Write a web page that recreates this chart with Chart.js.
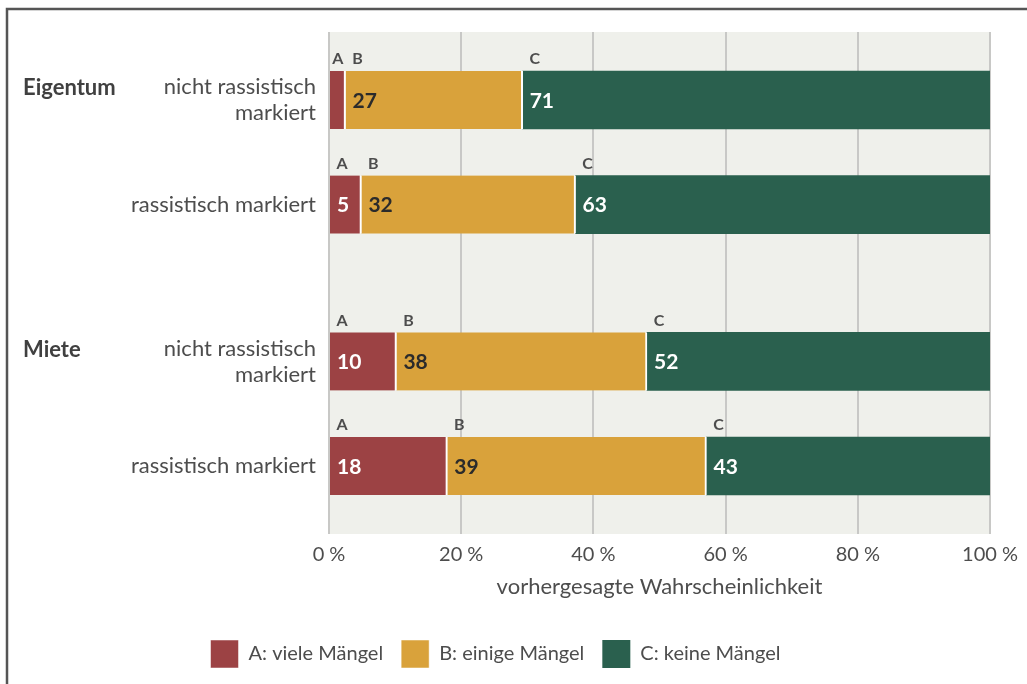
<!DOCTYPE html>
<html lang="de">
<head>
<meta charset="utf-8">
<title>Vorhergesagte Wahrscheinlichkeit</title>
<script src="https://cdn.jsdelivr.net/npm/chart.js@4.4.1/dist/chart.umd.min.js"></script>
<style>
  html, body { margin: 0; padding: 0; background: #fff; }
  #wrap { position: relative; width: 1027px; height: 684px; }
</style>
</head>
<body>
<div id="wrap"><canvas id="chart"></canvas></div>
<script>
// Daten
const rowLabels = [
  ["nicht rassistisch", "markiert"],
  "rassistisch markiert",
  ["nicht rassistisch", "markiert"],
  "rassistisch markiert",
];
const rowPos = [0, 2, 5, 7];          // Lage der Balken auf der y-Achse (Lücke zwischen Gruppen)
const groupLabels = ["Eigentum", "Miete"];
const groupRows = [0, 2];             // erste Zeile je Gruppe
const vieleMaengel = [2.5, 4.9, 10.2, 17.9];
const einigeMaengel = [26.8, 32.4, 37.9, 39.2];
const keineMaengel = [70.7, 62.7, 51.9, 42.9];
const seriesNames = ["A: viele Mängel", "B: einige Mängel", "C: keine Mängel"];
const seriesKeys = ["A", "B", "C"];
const xTicks = [0, 20, 40, 60, 80, 100];

const FONT = "Lato, 'Open Sans', sans-serif";
const GREY = "#4d4d4d";
const colors = ["#9c4244", "#d9a23b", "#2a604e"];
const labelColors = ["#ffffff", "#2b2b2b", "#ffffff"];

const toPoints = (arr) => arr.map((v, i) => ({ x: v, y: rowPos[i] }));

// Hintergrund und Rahmen
const backdrop = {
  id: "backdrop",
  beforeDraw(chart) {
    const { ctx, chartArea: a, width, height } = chart;
    ctx.save();
    ctx.fillStyle = "#eff0eb";
    ctx.fillRect(a.left, a.top, a.right - a.left, a.bottom - a.top);
    ctx.strokeStyle = "#555";
    ctx.lineWidth = 2.5;
    ctx.beginPath();
    ctx.moveTo(7, height);
    ctx.lineTo(7, 9);
    ctx.lineTo(width, 9);
    ctx.stroke();
    ctx.restore();
  },
};

// Buchstaben A/B/C und Werte in den Balken, Gruppentitel links
const barText = {
  id: "barText",
  afterDatasetsDraw(chart) {
    const { ctx } = chart;
    ctx.save();
    ctx.textBaseline = "middle";
    chart.data.datasets.forEach((ds, di) => {
      const meta = chart.getDatasetMeta(di);
      meta.data.forEach((el, i) => {
        const p = el.getProps(["x", "y", "base", "height"], true);
        const start = Math.min(p.x, p.base);
        const w = Math.abs(p.x - p.base);
        const top = p.y - p.height / 2;
        ctx.textAlign = "center";
        ctx.fillStyle = GREY;
        ctx.font = "bold 16px " + FONT;
        ctx.fillText(seriesKeys[di], start + Math.min(12, w / 2), top - 12);
        const v = ds.data[i].x;
        if (v >= 4) {
          ctx.textAlign = "left";
          ctx.fillStyle = labelColors[di];
          ctx.font = "bold 21px " + FONT;
          ctx.fillText(String(Math.round(v)), start + 7, p.y + 1);
        }
      });
    });
    const yScale = chart.scales.y;
    ctx.textAlign = "left";
    ctx.fillStyle = "#404040";
    ctx.font = "bold 22px " + FONT;
    groupLabels.forEach((g, gi) => {
      const y = yScale.getPixelForValue(rowPos[groupRows[gi]]) - 12;
      ctx.fillText(g, 23, y);
    });
    ctx.restore();
  },
};

new Chart(document.getElementById("chart").getContext("2d"), {
  type: "bar",
  data: {
    datasets: [vieleMaengel, einigeMaengel, keineMaengel].map((arr, i) => ({
      label: seriesNames[i],
      data: toPoints(arr),
      backgroundColor: colors[i],
      borderColor: "#ffffff",
      borderWidth: i < 2 ? { top: 0, bottom: 0, left: 0, right: 2 } : 0,
      borderSkipped: false,
      barThickness: 58,
    })),
  },
  options: {
    indexAxis: "y",
    responsive: true,
    maintainAspectRatio: false,
    animation: false,
    layout: { padding: { top: 32, right: 36, left: 0, bottom: 6 } },
    plugins: {
      tooltip: { enabled: false },
      legend: {
        position: "bottom",
        labels: {
          boxWidth: 28,
          boxHeight: 28,
          padding: 18,
          color: GREY,
          font: { family: FONT, size: 20 },
        },
      },
    },
    scales: {
      x: {
        type: "linear",
        stacked: true,
        min: 0,
        max: 100,
        afterBuildTicks: (s) => { s.ticks = xTicks.map((v) => ({ value: v })); },
        afterFit: (s) => { s.height = 88; },
        grid: { color: "#c8c8c6", lineWidth: 2, drawTicks: false },
        border: { display: false },
        ticks: {
          padding: 9,
          color: GREY,
          font: { family: FONT, size: 20 },
          callback: (v) => v + " %",
        },
        title: {
          display: true,
          text: "vorhergesagte Wahrscheinlichkeit",
          color: GREY,
          font: { family: FONT, size: 22 },
          padding: { top: 4, bottom: 22 },
        },
      },
      y: {
        type: "linear",
        stacked: true,
        reverse: true,
        offset: false,
        min: -1.3,
        max: 8.3,
        afterBuildTicks: (s) => { s.ticks = rowPos.map((v) => ({ value: v })); },
        afterFit: (s) => { s.width = 329; },
        grid: { display: false },
        border: { display: false },
        ticks: {
          padding: 5,
          color: GREY,
          font: { family: FONT, size: 22, lineHeight: 1.18 },
          callback: (v) => rowLabels[rowPos.indexOf(v)] || "",
        },
      },
    },
  },
  plugins: [backdrop, barText],
});
</script>
</body>
</html>
